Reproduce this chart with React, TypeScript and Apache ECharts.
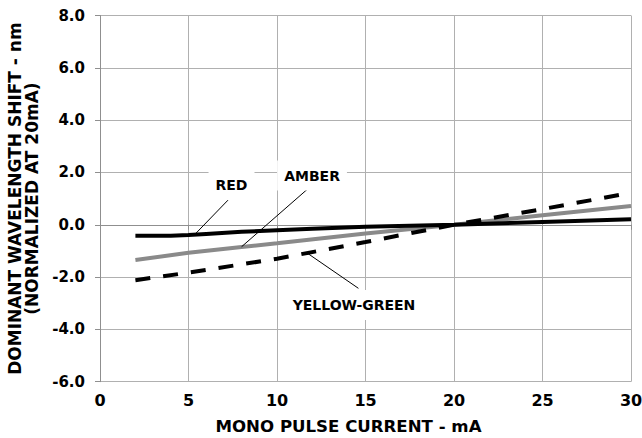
import React, { useEffect, useRef } from "react";
import * as echarts from "echarts";

const xTicks = { min: 0, max: 30, interval: 5 };
const yTicks = { min: -6, max: 8, interval: 2 };

const redData: [number, number][] = [
  [2, -0.42], [4, -0.42], [5, -0.39], [6, -0.35], [8, -0.27], [10, -0.21],
  [12, -0.15], [15, -0.08], [20, 0], [25, 0.11], [30, 0.21],
];
const amberData: [number, number][] = [
  [2, -1.35], [5, -1.07], [8, -0.85], [10, -0.71], [15, -0.33], [20, 0], [25, 0.36], [30, 0.72],
];
const yellowGreenData: [number, number][] = [
  [2, -2.12], [5, -1.83], [10, -1.3], [15, -0.66], [20, 0], [25, 0.6], [30, 1.22],
];

const labelNames = ["RED", "AMBER", "YELLOW-GREEN"];
const labelCoords: [number, number][] = [[7.43, 1.52], [11.98, 1.88], [14.35, -3.07]];
const leaderLines: [[number, number], [number, number]][] = [
  [[7.23, 0.94], [5.37, -0.36]],
  [[11.77, 1.39], [8.0, -0.84]],
  [[11.68, -1.07], [14.6, -2.43]],
];

const FONT = "DejaVu Sans";

export default function App() {
  const ref = useRef<HTMLDivElement>(null);
  useEffect(() => {
    if (!ref.current) return;
    const chart = echarts.init(ref.current, undefined, { renderer: "svg" });
    const axisLineColor = "#8f8f8f";
    const gridColor = "#b0b0b0";
    chart.setOption({
      animation: false,
      backgroundColor: "#fff",
      grid: { left: 100, right: 11, top: 15.5, bottom: 56.3, outerBoundsMode: "none" },
      xAxis: {
        type: "value",
        min: xTicks.min,
        max: xTicks.max,
        interval: xTicks.interval,
        name: "MONO PULSE CURRENT - mA",
        nameLocation: "middle",
        nameGap: 36,
        nameTextStyle: { fontFamily: FONT, fontWeight: "bold", fontSize: 16.6, color: "#000", padding: [0, 34, 0, 0] },
        axisLine: { show: true, lineStyle: { color: axisLineColor, width: 1 } },
        axisTick: { show: true, inside: false, length: 5, lineStyle: { color: axisLineColor } },
        axisLabel: { margin: 11, fontFamily: FONT, fontWeight: "bold", fontSize: 16, color: "#000" },
        splitLine: { show: true, lineStyle: { color: gridColor, width: 1 } },
      },
      yAxis: {
        type: "value",
        min: yTicks.min,
        max: yTicks.max,
        interval: yTicks.interval,
        name: "DOMINANT WAVELENGTH SHIFT - nm\n(NORMALIZED AT 20mA)",
        nameLocation: "middle",
        nameGap: 60,
        nameTextStyle: { fontFamily: FONT, fontWeight: "bold", fontSize: 17, color: "#000", lineHeight: 17 },
        axisLine: { show: true, lineStyle: { color: axisLineColor, width: 1 } },
        axisTick: { show: true, inside: false, length: 5, lineStyle: { color: axisLineColor } },
        axisLabel: {
          margin: 15,
          fontFamily: FONT,
          fontWeight: "bold",
          fontSize: 15,
          color: "#000",
          formatter: (v: number) => v.toFixed(1),
        },
        splitLine: { show: true, lineStyle: { color: gridColor, width: 1 } },
      },
      series: [
        {
          name: "AMBER",
          type: "line",
          data: amberData,
          showSymbol: false,
          symbol: "none",
          lineStyle: { color: "#8a8a8a", width: 4 },
          z: 3,
        },
        {
          name: "YELLOW-GREEN",
          type: "line",
          data: yellowGreenData,
          showSymbol: false,
          symbol: "none",
          lineStyle: { color: "#000", width: 4, type: [15, 13] },
          z: 4,
        },
        {
          name: "RED",
          type: "line",
          data: redData,
          showSymbol: false,
          symbol: "none",
          lineStyle: { color: "#000", width: 4 },
          z: 5,
          markLine: {
            silent: true,
            symbol: ["none", "none"],
            label: { show: false },
            lineStyle: { color: "#000", width: 1, type: "solid" },
            data: leaderLines.map(([a, b]) => [{ coord: a }, { coord: b }]),
          },
          markPoint: {
            silent: true,
            symbol: "circle",
            symbolSize: 0,
            label: {
              show: true,
              position: "inside",
              fontFamily: FONT,
              fontWeight: "bold",
              fontSize: 14,
              color: "#000",
              backgroundColor: "#fff",
              padding: [8, 7],
            },
            data: labelNames.map((n, i) => ({ name: n, coord: labelCoords[i], label: { formatter: n } })),
          },
        },
      ],
    });
    return () => chart.dispose();
  }, []);
  return <div ref={ref} style={{ position: "fixed", left: 0, top: 0, width: 642, height: 438 }} />;
}
